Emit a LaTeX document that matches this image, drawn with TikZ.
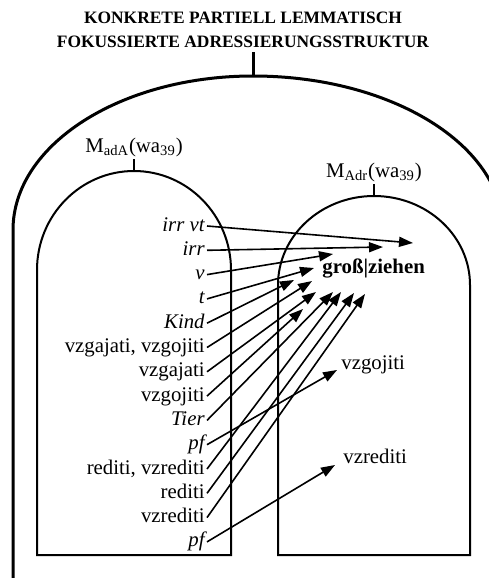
\documentclass[tikz,border=0pt]{standalone}
\usepackage{fontspec}
\setmainfont{Liberation Serif}
\usetikzlibrary{positioning, arrows.meta, calc}

\begin{document}
\begin{tikzpicture}[x=0.5pt, y=-0.5pt, >={Triangle[length=7pt,width=5pt]},
      font=\fontsize{10.4}{12}\selectfont,
      titel/.style={font=\fontsize{8.7}{10}\selectfont\bfseries, inner sep=1pt},
      lbl/.style={anchor=east, inner sep=1pt, text height=7.5pt, text depth=2.5pt},
      rlbl/.style={anchor=west, inner sep=1pt, text height=7.5pt, text depth=2.5pt},
      mlbl/.style={inner sep=1pt},
      frame/.style={line width=1.5pt},
      box/.style={line width=1pt},
      link/.style={->, line width=0.8pt}]
      \useasboundingbox (0,0) rectangle (488,578);
      % title and outer frame
      \node[titel] (title1) at (243,18) {KONKRETE PARTIELL LEMMATISCH};
      \node[titel] (title2) at (243,42) {FOKUSSIERTE ADRESSIERUNGSSTRUKTUR};
      \coordinate (otop) at (253,76);
      \draw[frame] (13,578) -- (13,230)
        arc[start angle=180, end angle=270, x radius=240, y radius=154]
        arc[start angle=270, end angle=360, x radius=250, y radius=154];
      \draw[frame] (otop) -- ++(0,-24);
      % the two inner sets
      \coordinate (ltop) at (134,171);
      \coordinate (rtop) at (374,196);
      \draw[box] (37,555) -- (37,270)
        arc[start angle=180, end angle=360, x radius=97, y radius=99] -- (231,555) -- cycle;
      \draw[box] (278,555) -- (278,285)
        arc[start angle=180, end angle=360, x radius=96, y radius=89] -- (470,555) -- cycle;
      \node[mlbl, anchor=south] (madA) at (134,159) {M\textsubscript{adA}(wa\textsubscript{39})};
      \node[mlbl, anchor=south] (mAdr) at (374,184) {M\textsubscript{Adr}(wa\textsubscript{39})};
      \draw[box] (madA.south) -- (ltop);
      \draw[box] (mAdr.south) -- (rtop);
      % left column
      \node[lbl] (irrvt) at (207,226)   {\itshape irr vt};
      \node[lbl] (irr)   at (207,250.3) {\itshape irr};
      \node[lbl] (v)     at (207,274.6) {\itshape v};
      \node[lbl] (t)     at (207,298.9) {\itshape t};
      \node[lbl] (kind)  at (207,323.2) {\itshape Kind};
      \node[lbl] (vgvg)  at (207,347.5) {vzgajati, vzgojiti};
      \node[lbl] (vga)   at (207,371.8) {vzgajati};
      \node[lbl] (vgo)   at (207,396.1) {vzgojiti};
      \node[lbl] (tier)  at (207,420.4) {\itshape Tier};
      \node[lbl] (pfa)   at (207,444.7) {\itshape pf};
      \node[lbl] (rvr)   at (207,469)   {rediti, vzrediti};
      \node[lbl] (red)   at (207,493.3) {rediti};
      \node[lbl] (vzr)   at (207,517.6) {vzrediti};
      \node[lbl] (pfb)   at (207,541.9) {\itshape pf};
      % right column
      \node[rlbl] (gz)   at (320,268) {\bfseries groß|ziehen};
      \node[rlbl] (vzgo) at (339,364) {vzgojiti};
      \node[rlbl] (vzre) at (341,458) {vzrediti};
      % links
      \draw[link] (irrvt.east) -- ([shift={(93,-25)}]gz.west);
      \draw[link] (irr.east)   -- ([shift={(63,-21)}]gz.west);
      \draw[link] (v.east)     -- ([shift={(13,-14)}]gz.west);
      \draw[link] (t.east)     -- ([shift={(-6,0)}]gz.west);
      \draw[link] (kind.east)  -- ([shift={(-26,12)}]gz.west);
      \draw[link] (vgvg.east)  -- ([shift={(-8,13)}]gz.west);
      \draw[link] (vga.east)   -- ([shift={(-4,24)}]gz.west);
      \draw[link] (vgo.east)   -- ([shift={(-17,41)}]gz.west);
      \draw[link] (tier.east)  -- ([shift={(13,24)}]gz.west);
      \draw[link] (rvr.east)   -- ([shift={(21,24)}]gz.west);
      \draw[link] (red.east)   -- ([shift={(34,25)}]gz.west);
      \draw[link] (vzr.east)   -- ([shift={(45,26)}]gz.west);
      \draw[link] (pfa.east)   -- ([shift={(-2,6)}]vzgo.west);
      \draw[link] (pfb.east)   -- ([shift={(-6,7)}]vzre.west);
    \end{tikzpicture}
\end{document}
